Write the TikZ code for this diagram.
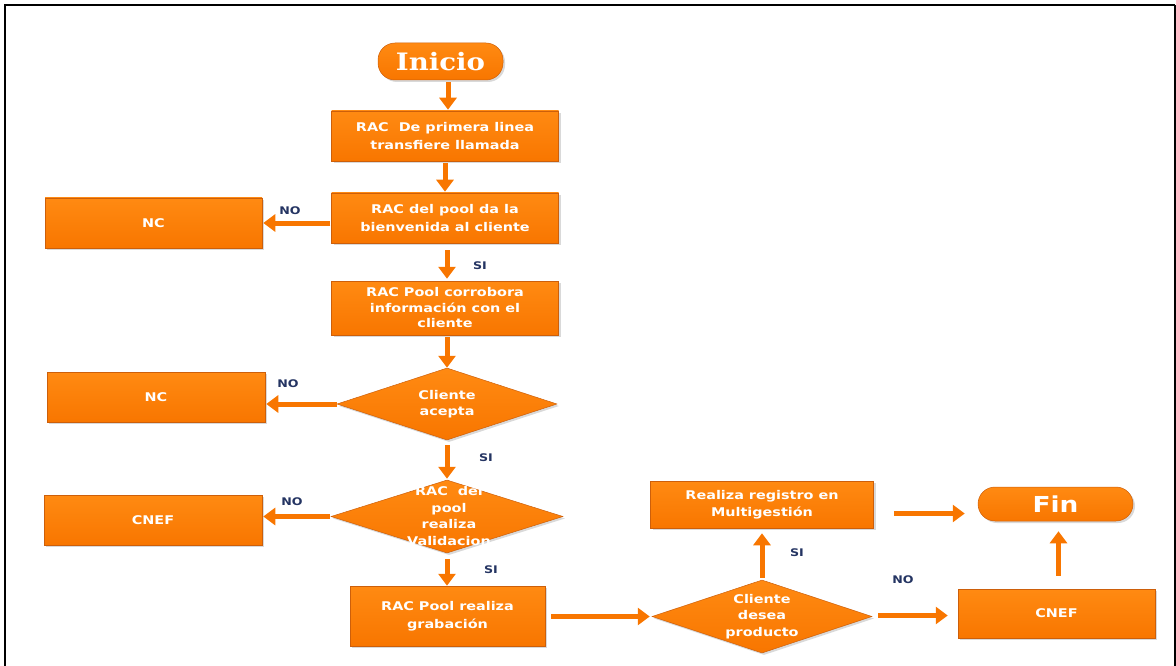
\documentclass[tikz,border=0pt]{standalone}
\usepackage{fontspec}
\setmainfont[FakeStretch=1.2]{DejaVu Sans}
\newfontfamily\fuenteinicio[FakeStretch=1.15]{DejaVu Serif}
\usetikzlibrary{shapes.geometric}
\usetikzlibrary{arrows.meta, shadows}
\usepackage{xcolor}
\definecolor{naranja}{RGB}{248,118,0}
\definecolor{naranjaclaro}{RGB}{255,138,18}
\definecolor{bordenaranja}{RGB}{205,95,10}
\definecolor{azulnota}{RGB}{36,52,98}

\begin{document}
\begin{tikzpicture}[x=1pt, y=-1pt]
        % estilos: cajas naranjas con sombra, rombos, flechas gruesas
        \tikzstyle{base}=[draw=bordenaranja, line width=0.5pt, top color=naranjaclaro, bottom color=naranja,
                          drop shadow={shadow xshift=2pt, shadow yshift=-2pt, opacity=0.3}, inner sep=0pt]
        \tikzstyle{caja}=[base, rectangle, text=white, align=center, font=\bfseries\fontsize{12}{17.5}\selectfont]
        \tikzstyle{rombo}=[base, diamond]
        \tikzstyle{texto}=[text=white, align=center, font=\bfseries\fontsize{12}{16.5}\selectfont]
        \tikzstyle{terminal}=[base, rectangle, rounded corners=17pt, text=white]
        \tikzstyle{etiqueta}=[text=azulnota, font=\bfseries\fontsize{10.5}{11}\selectfont]
        \tikzstyle{flecha}=[draw=naranja, line width=5pt, -{Triangle[width=17pt,length=12pt]}]

        % marco de la imagen
        \useasboundingbox (0,0) rectangle (1176,666);
        \draw[line width=2pt] (5,666) -- (5,5) -- (1175,5);
        \draw[line width=1.2pt] (1175,5) -- (1175,666);

        % columna principal
        \node[terminal, minimum width=125pt, minimum height=37pt, font=\fuenteinicio\bfseries\fontsize{24}{24}\selectfont]
             (inicio) at (440.5,61.5) {Inicio};
        \node[caja, minimum width=227pt, minimum height=50pt] (rac1) at (445,136) {RAC\ \ De primera linea\\transfiere llamada};
        \node[caja, minimum width=227pt, minimum height=50pt] (rac2) at (445,218) {RAC del pool da la\\bienvenida al cliente};
        \node[caja, minimum width=227pt, minimum height=54pt, font=\bfseries\fontsize{12}{15.5}\selectfont]
             (rac3) at (445,308) {RAC Pool corrobora\\informaci\'on con el\\cliente};
        \node[rombo, minimum width=220pt, minimum height=72pt] (d1) at (447,404) {};
        \node[texto] (td1) at (d1) {Cliente\\acepta};
        \node[rombo, minimum width=232pt, minimum height=73pt] (d2) at (447,516.5) {};
        \node[texto] (td2) at (449,516) {RAC\ \ del\\pool\\realiza\\Validacion};
        \node[caja, minimum width=195pt, minimum height=60pt] (rac4) at (447.5,616) {RAC Pool realiza\\grabaci\'on};

        % salidas por la izquierda
        \node[caja, minimum width=217pt, minimum height=50pt] (nc1) at (153.5,223) {NC};
        \node[caja, minimum width=218pt, minimum height=50pt] (nc2) at (156,397) {NC};
        \node[caja, minimum width=218pt, minimum height=50pt] (cnef1) at (153,520) {CNEF};

        % parte derecha
        \node[rombo, minimum width=220pt, minimum height=73pt] (d3) at (762,616.5) {};
        \node[texto] (td3) at (d3) {Cliente\\desea\\producto};
        \node[caja, minimum width=223pt, minimum height=47pt] (rac5) at (762,504.5) {Realiza registro en\\Multigesti\'on};
        \node[caja, minimum width=197pt, minimum height=49pt] (cnef2) at (1056.5,613.5) {CNEF};
        \node[terminal, minimum width=155pt, minimum height=34pt, font=\bfseries\fontsize{22}{22}\selectfont]
             (fin) at (1055.5,504) {Fin};

        % flechas
        \draw[flecha, shorten <=2pt, shorten >=1pt] (inicio.south -| 448,0) -- (rac1.north -| 448,0);
        \draw[flecha, shorten <=2pt, shorten >=1pt] (rac1.south) -- (rac2.north);
        \draw[flecha, shorten <=7pt, shorten >=2pt] (rac2.south -| 447,0) -- (rac3.north -| 447,0);
        \draw[flecha, shorten <=2pt] (rac3.south -| d1.north) -- (d1.north);
        \draw[flecha, shorten <=5pt, shorten >=1pt] (d1.south) -- (d2.north);
        \draw[flecha, shorten <=6pt] (d2.south) -- (d2.south |- rac4.north);
        \draw[flecha, shorten <=1pt, shorten >=1pt] (rac2.west |- nc1.east) -- (nc1.east);
        \draw[flecha, shorten >=1pt] (d1.west) -- (d1.west -| nc2.east);
        \draw[flecha, shorten <=1pt, shorten >=1pt] (d2.west) -- (d2.west -| cnef1.east);
        \draw[flecha, shorten <=6pt, shorten >=2pt] (rac4.east |- d3.west) -- (d3.west);
        \draw[flecha, shorten <=2pt, shorten >=5pt] (d3.north) -- (rac5.south);
        \draw[flecha, shorten <=20pt, shorten >=13pt] ([yshift=-9pt]rac5.east) -- ([yshift=-9pt]rac5.east -| fin.west);
        \draw[flecha, shorten <=6pt, shorten >=10pt] ([yshift=1pt]d3.east) -- ([yshift=1pt]d3.east -| cnef2.west);
        \draw[flecha, shorten <=13pt, shorten >=10pt] ([xshift=2pt]cnef2.north) -- ([xshift=2pt]cnef2.north |- fin.south);

        % etiquetas SI / NO
        \foreach \nombre/\x/\y/\txt in {no1/290/211/NO, si1/480/266/SI, no2/288/384/NO, si2/486/458/SI,
                                        no3/292/502/NO, si3/491/570/SI, si4/797/553/SI, no4/903/580/NO} {
            \node[etiqueta] (\nombre) at (\x,\y) {\txt};
        }
    \end{tikzpicture}
\end{document}
